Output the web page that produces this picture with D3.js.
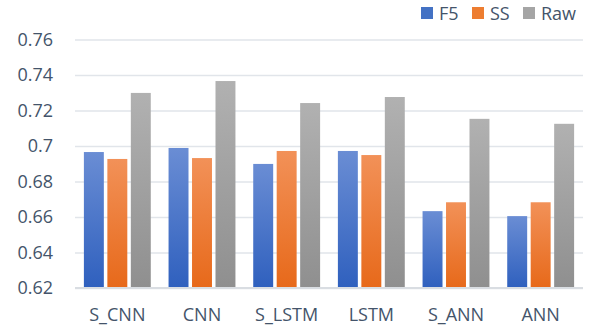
<!DOCTYPE html>
<html>
<head>
<meta charset="utf-8">
<script src="https://cdn.jsdelivr.net/npm/d3@7/dist/d3.min.js"></script>
<style>
  html, body { margin: 0; padding: 0; background: #fff; }
  svg { display: block; font-family: "Open Sans", sans-serif; }
</style>
</head>
<body>
<svg id="chart" width="589" height="329"></svg>
<script>
// Model names along the x axis
const categories = ["S_CNN", "CNN", "S_LSTM", "LSTM", "S_ANN", "ANN"];
// Series shown for each model
const seriesNames = ["F5", "SS", "Raw"];
const f5Values  = [0.6966, 0.6989, 0.6899, 0.6972, 0.6633, 0.6605];
const ssValues  = [0.6927, 0.6932, 0.6972, 0.6949, 0.6683, 0.6683];
const rawValues = [0.7299, 0.7366, 0.7242, 0.7276, 0.7153, 0.7125];
// Y axis ticks and their labels
const yTicks = [0.62, 0.64, 0.66, 0.68, 0.70, 0.72, 0.74, 0.76];
const yTickLabels = ["0.62", "0.64", "0.66", "0.68", "0.7", "0.72", "0.74", "0.76"];

const seriesValues = [f5Values, ssValues, rawValues];
const colors = {
  F5:  { top: "#6a8dd4", bottom: "#2f60be", swatch: "#4472c4" },
  SS:  { top: "#f29158", bottom: "#e7691a", swatch: "#ed7d31" },
  Raw: { top: "#b1b1b1", bottom: "#8f8f8f", swatch: "#a5a5a5" }
};
const textColor = "#44546a";

const svg = d3.select("#chart");
const plotLeft = 75, plotRight = 583, plotTop = 39.5, plotBottom = 288;

const x0 = d3.scaleBand().domain(categories).range([plotLeft, plotRight])
  .paddingInner(0.21).paddingOuter(0.105);
const x1 = d3.scaleBand().domain(seriesNames).range([0, x0.bandwidth()])
  .paddingInner(0.15).paddingOuter(0);
const y = d3.scaleLinear().domain([0.62, 0.76]).range([plotBottom, plotTop]);

// Vertical gradients for each series
const defs = svg.append("defs");
seriesNames.forEach(s => {
  const g = defs.append("linearGradient").attr("id", "grad-" + s)
    .attr("x1", 0).attr("y1", 0).attr("x2", 0).attr("y2", 1);
  g.append("stop").attr("offset", "0%").attr("stop-color", colors[s].top);
  g.append("stop").attr("offset", "100%").attr("stop-color", colors[s].bottom);
});

// Horizontal gridlines with labels
const yAxis = d3.axisLeft(y).tickValues(yTicks)
  .tickSize(-(plotRight - plotLeft))
  .tickFormat((d, i) => yTickLabels[i])
  .tickPadding(22);
const yg = svg.append("g").attr("transform", `translate(${plotLeft},0)`).call(yAxis);
yg.select(".domain").remove();
yg.selectAll(".tick line").attr("stroke", "#e1e5ea").attr("stroke-width", 1.5);
yg.selectAll(".tick text").attr("fill", textColor).attr("font-size", 18)
  .attr("font-family", "'Open Sans', sans-serif");

// Bars
const groups = svg.append("g").selectAll("g").data(categories).join("g")
  .attr("transform", d => `translate(${x0(d)},0)`);
groups.selectAll("rect")
  .data((c, ci) => seriesNames.map((s, si) => ({ s, v: seriesValues[si][ci] })))
  .join("rect")
  .attr("x", d => x1(d.s))
  .attr("width", x1.bandwidth())
  .attr("y", d => y(d.v))
  .attr("height", d => y(0.62) - y(d.v))
  .attr("fill", d => `url(#grad-${d.s})`);

// Baseline
svg.append("line").attr("x1", plotLeft).attr("x2", plotRight)
  .attr("y1", plotBottom).attr("y2", plotBottom)
  .attr("stroke", "#d9dde2").attr("stroke-width", 2);

// Category labels
const xAxis = d3.axisBottom(x0).tickSize(0).tickPadding(20);
const xg = svg.append("g").attr("transform", `translate(0,${plotBottom})`).call(xAxis);
xg.select(".domain").remove();
xg.selectAll(".tick text").attr("fill", textColor).attr("font-size", 18)
  .attr("font-family", "'Open Sans', sans-serif");

// Legend
const legendX = [421, 472, 523];
const legend = svg.append("g").selectAll("g").data(seriesNames).join("g")
  .attr("transform", (d, i) => `translate(${legendX[i]},7)`);
legend.append("rect").attr("width", 12).attr("height", 12)
  .attr("fill", d => colors[d].swatch);
legend.append("text").attr("x", 18).attr("y", 12.5)
  .attr("fill", textColor).attr("font-size", 18).text(d => d);
</script>
</body>
</html>
